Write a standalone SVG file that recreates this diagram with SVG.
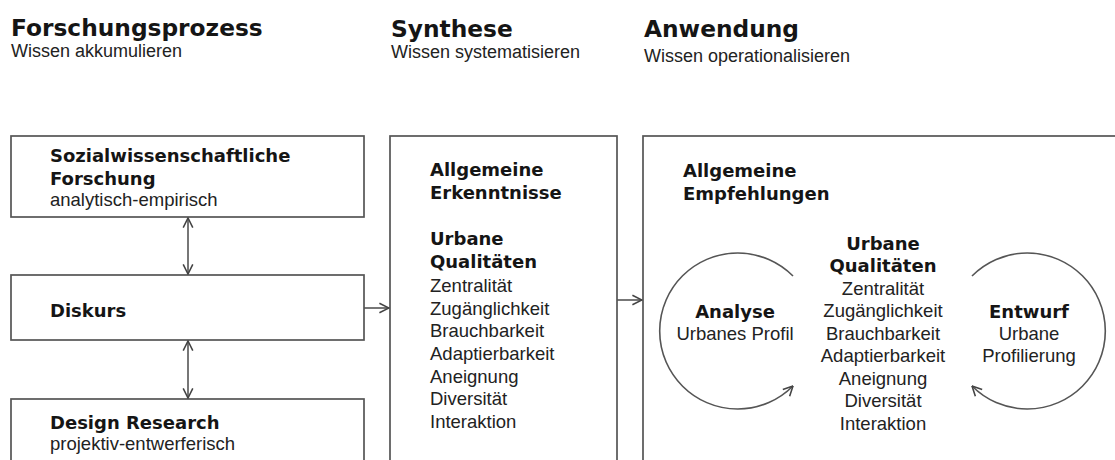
<svg xmlns="http://www.w3.org/2000/svg" width="1115" height="460" viewBox="0 0 1115 460">
<defs>
<style>
.h{font-family:"DejaVu Sans","Liberation Sans",sans-serif;font-weight:bold;font-size:23.3px;fill:#151515}
.b{font-family:"DejaVu Sans","Liberation Sans",sans-serif;font-weight:bold;font-size:18px;fill:#151515}
.r{font-family:"Liberation Sans",Arial,sans-serif;font-size:18.5px;fill:#222}
.s{font-family:"Liberation Sans",Arial,sans-serif;font-size:18px;fill:#222}
.box{fill:#fff;stroke:#555;stroke-width:1.7}
.ln{fill:none;stroke:#555;stroke-width:1.6}
.c{text-anchor:middle}
</style>
<marker id="ah" viewBox="0 0 10 10" refX="9.5" refY="5" markerWidth="12" markerHeight="12" markerUnits="userSpaceOnUse" orient="auto-start-reverse">
<path d="M1.5,1 L9.5,5 L1.5,9" fill="none" stroke="#444" stroke-width="1.3"/>
</marker>
</defs>
<rect width="1115" height="460" fill="#fff"/>

<g id="header-forschung">
<text class="h" x="11" y="36">Forschungsprozess</text>
<text class="s" x="11" y="57">Wissen akkumulieren</text>
</g>
<g id="header-synthese">
<text class="h" x="391" y="37">Synthese</text>
<text class="s" x="391" y="58">Wissen systematisieren</text>
</g>
<g id="header-anwendung">
<text class="h" x="644" y="37">Anwendung</text>
<text class="s" x="644" y="62">Wissen operationalisieren</text>
</g>

<g id="node-sozial">
<rect class="box" x="11" y="136" width="353" height="81"/>
<text class="b" x="50" y="162">Sozialwissenschaftliche</text>
<text class="b" x="50" y="185">Forschung</text>
<text class="r" x="50" y="206">analytisch-empirisch</text>
</g>
<g id="node-diskurs">
<rect class="box" x="11" y="275" width="353" height="65"/>
<text class="b" x="50" y="317">Diskurs</text>
</g>
<g id="node-design">
<rect class="box" x="11" y="399" width="353" height="90"/>
<text class="b" x="50" y="429">Design Research</text>
<text class="r" x="50" y="450">projektiv-entwerferisch</text>
</g>

<g id="node-synthese">
<rect class="box" x="390" y="136" width="227" height="350"/>
<text class="b" x="430" y="176">Allgemeine</text>
<text class="b" x="430" y="199">Erkenntnisse</text>
<text class="b" x="430" y="245">Urbane</text>
<text class="b" x="430" y="268">Qualitäten</text>
<text class="r" x="430" y="292">Zentralität</text>
<text class="r" x="430" y="315">Zugänglichkeit</text>
<text class="r" x="430" y="337">Brauchbarkeit</text>
<text class="r" x="430" y="360">Adaptierbarkeit</text>
<text class="r" x="430" y="383">Aneignung</text>
<text class="r" x="430" y="405">Diversität</text>
<text class="r" x="430" y="428">Interaktion</text>
</g>

<g id="node-anwendung">
<rect class="box" x="643" y="136" width="500" height="350"/>
<text class="b" x="683" y="177">Allgemeine</text>
<text class="b" x="683" y="200">Empfehlungen</text>
<text class="b c" x="883" y="250">Urbane</text>
<text class="b c" x="883" y="272">Qualitäten</text>
<text class="r c" x="883" y="294.5">Zentralität</text>
<text class="r c" x="883" y="317">Zugänglichkeit</text>
<text class="r c" x="883" y="339.5">Brauchbarkeit</text>
<text class="r c" x="883" y="362">Adaptierbarkeit</text>
<text class="r c" x="883" y="384.5">Aneignung</text>
<text class="r c" x="883" y="407">Diversität</text>
<text class="r c" x="883" y="429.5">Interaktion</text>
</g>

<g id="node-analyse">
<text class="b c" x="735" y="318">Analyse</text>
<text class="r c" x="735" y="340">Urbanes Profil</text>
</g>
<g id="node-entwurf">
<text class="b c" x="1029" y="318">Entwurf</text>
<text class="r c" x="1029" y="340">Urbane</text>
<text class="r c" x="1029" y="362">Profilierung</text>
</g>

<g id="connectors">
<line class="ln" x1="188" y1="218" x2="188" y2="274" marker-start="url(#ah)" marker-end="url(#ah)"/>
<line class="ln" x1="188" y1="341" x2="188" y2="398" marker-start="url(#ah)" marker-end="url(#ah)"/>
<line class="ln" x1="364" y1="308" x2="389" y2="308" marker-end="url(#ah)"/>
<line class="ln" x1="617" y1="300" x2="642" y2="300" marker-end="url(#ah)"/>
<path class="ln" d="M793,276 A78,78 0 1 0 793,386" marker-end="url(#ah)"/>
<path class="ln" d="M972,276 A78,78 0 1 1 972,386" marker-end="url(#ah)"/>
</g>
</svg>
